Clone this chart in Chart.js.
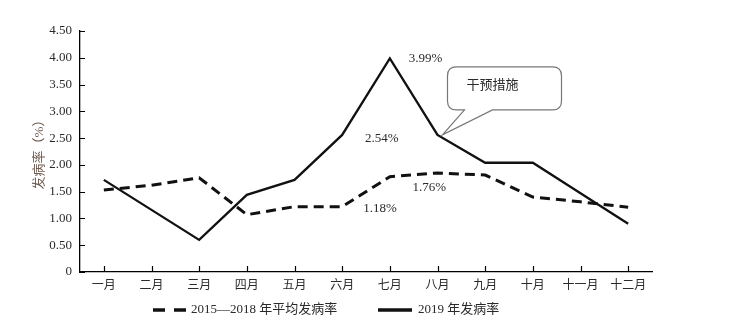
<!DOCTYPE html>
<html>
<head>
<meta charset="utf-8">
<script src="https://cdn.jsdelivr.net/npm/chart.js@4"></script>
<style>
  html, body { margin: 0; padding: 0; background: #fff; }
  #wrap { width: 750px; height: 323px; }
</style>
</head>
<body>
<div id="wrap"><canvas id="myChart" width="750" height="323"></canvas></div>
<script>
// data
const months = ['一月', '二月', '三月', '四月', '五月', '六月', '七月', '八月', '九月', '十月', '十一月', '十二月'];
const avg20152018 = [1.53, 1.62, 1.76, 1.07, 1.22, 1.22, 1.78, 1.85, 1.81, 1.40, 1.31, 1.21];
const rate2019 = [1.72, 1.16, 0.60, 1.44, 1.72, 2.56, 3.99, 2.56, 2.04, 2.04, 1.47, 0.90];
const seriesNames = ['2015—2018 年平均发病率', '2019 年发病率'];
const yTicks = [0, 0.5, 1, 1.5, 2, 2.5, 3, 3.5, 4, 4.5];

const FONT = "'Liberation Serif', 'Noto Sans CJK SC', serif";

// text labels next to points: [dataset, index, text, dx, dy, align]
const pointNotes = [
  [1, 6, '3.99%', 19, 0, 'left'],
  [1, 7, '2.54%', -39, 4, 'right'],
  [0, 5, '1.18%', 21, 2, 'left'],
  [0, 7, '1.76%', -25, 15, 'left']
];

const extras = {
  id: 'extras',
  afterDatasetsDraw(chart) {
    const c = chart.ctx;
    const x = chart.scales.x, y = chart.scales.y;
    const area = chart.chartArea;
    c.save();
    // inward tick marks
    c.strokeStyle = '#000';
    c.lineWidth = 1.2;
    c.beginPath();
    yTicks.forEach(v => {
      const py = Math.round(y.getPixelForValue(v)) + 0.5;
      c.moveTo(area.left, py); c.lineTo(area.left + 5, py);
    });
    months.forEach((m, i) => {
      const px = Math.round(x.getPixelForValue(i)) + 0.5;
      c.moveTo(px, area.bottom); c.lineTo(px, area.bottom - 6);
    });
    c.stroke();

    // value notes
    c.fillStyle = '#2a2a2a';
    c.font = '13px ' + FONT;
    c.textBaseline = 'middle';
    pointNotes.forEach(([ds, i, txt, dx, dy, al]) => {
      const data = chart.data.datasets[ds].data;
      c.textAlign = al;
      c.fillText(txt, x.getPixelForValue(i) + dx, y.getPixelForValue(data[i]) + dy);
    });

    // callout bubble pointing at August 2019
    const tx = x.getPixelForValue(7) + 5, ty = y.getPixelForValue(rate2019[7]);
    const bx = tx + 5, by = ty - 68, bw = 114, bh = 43, r = 9;
    c.beginPath();
    c.moveTo(bx + r, by);
    c.lineTo(bx + bw - r, by);
    c.quadraticCurveTo(bx + bw, by, bx + bw, by + r);
    c.lineTo(bx + bw, by + bh - r);
    c.quadraticCurveTo(bx + bw, by + bh, bx + bw - r, by + bh);
    c.lineTo(bx + 45, by + bh);
    c.lineTo(tx, ty);
    c.lineTo(bx + 17, by + bh);
    c.lineTo(bx + r, by + bh);
    c.quadraticCurveTo(bx, by + bh, bx, by + bh - r);
    c.lineTo(bx, by + r);
    c.quadraticCurveTo(bx, by, bx + r, by);
    c.closePath();
    c.fillStyle = '#fff';
    c.fill();
    c.strokeStyle = '#777';
    c.lineWidth = 1.2;
    c.stroke();
    c.fillStyle = '#2a2a2a';
    c.textAlign = 'center';
    c.fillText('干预措施', bx + 45, by + 19);

    // legend
    const ly = 310;
    c.strokeStyle = '#111';
    c.lineWidth = 3.5;
    c.beginPath();
    c.moveTo(153, ly); c.lineTo(165, ly);
    c.moveTo(174, ly); c.lineTo(186, ly);
    c.moveTo(378, ly); c.lineTo(412, ly);
    c.stroke();
    c.textAlign = 'left';
    c.fillStyle = '#2a2a2a';
    c.fillText(seriesNames[0], 191, ly);
    c.fillText(seriesNames[1], 418, ly);
    c.restore();
  }
};

const ctx = document.getElementById('myChart');
const myChart = new Chart(ctx, {
  type: 'line',
  data: {
    labels: months,
    datasets: [{
      label: seriesNames[0],
      data: avg20152018,
      borderColor: '#111',
      borderWidth: 3,
      borderDash: [10, 6],
      pointRadius: 0,
      tension: 0,
      fill: false
    }, {
      label: seriesNames[1],
      data: rate2019,
      borderColor: '#111',
      borderWidth: 2.3,
      pointRadius: 0,
      tension: 0,
      fill: false
    }]
  },
  options: {
    responsive: false,
    animation: false,
    layout: { padding: { top: 31, right: 98, bottom: 31, left: 0 } },
    plugins: {
      legend: { display: false },
      tooltip: { enabled: false }
    },
    scales: {
      x: {
        offset: true,
        grid: { display: false, drawTicks: false },
        border: { display: true, color: '#000', width: 1.3 },
        ticks: { color: '#2a2a2a', padding: 7, font: { family: FONT, size: 12 }, maxRotation: 0, autoSkip: false },
        afterFit(s) { s.height = 20; }
      },
      y: {
        min: 0,
        max: 4.5,
        grid: { display: false, drawTicks: false },
        border: { display: true, color: '#000', width: 1.3 },
        ticks: {
          stepSize: 0.5,
          padding: 8,
          color: '#2a2a2a',
          font: { family: FONT, size: 13 },
          callback: v => v === 0 ? '0' : v.toFixed(2)
        },
        title: {
          display: true,
          text: '发病率（%）',
          color: '#6e5c50',
          font: { family: FONT, size: 13 },
          padding: { top: 32, bottom: 0 }
        },
        afterFit(s) { s.width = 80; }
      }
    }
  },
  plugins: [extras]
});
</script>
</body>
</html>
